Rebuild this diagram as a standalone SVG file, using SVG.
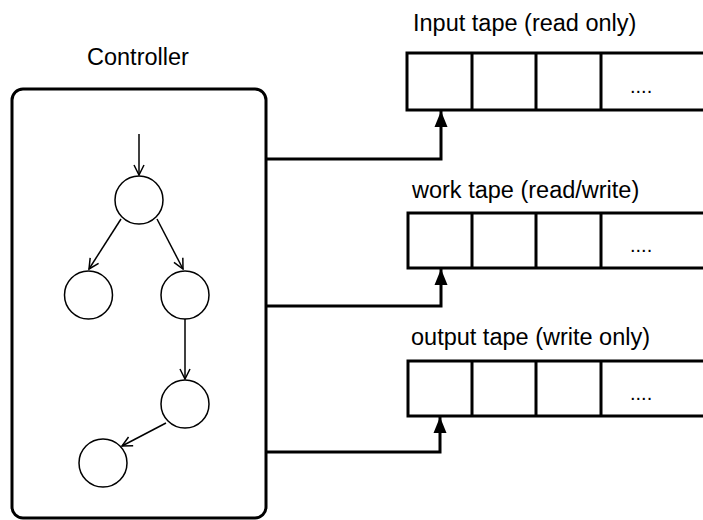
<svg xmlns="http://www.w3.org/2000/svg" width="703" height="520" viewBox="0 0 703 520">
<defs>
<style>
text{font-family:"Liberation Sans",Arial,sans-serif;font-size:23.5px;fill:#000}
.dots{font-size:20px}
.box{fill:#fff;stroke:#000;stroke-width:3}
.cell{fill:none;stroke:#000;stroke-width:3}
.st{fill:#fff;stroke:#000;stroke-width:1.5}
.e{fill:none;stroke:#000;stroke-width:1.5}
.c{fill:none;stroke:#000;stroke-width:3}
</style>
<marker id="open" viewBox="0 0 12 12" refX="11" refY="6" markerWidth="12" markerHeight="12" markerUnits="userSpaceOnUse" orient="auto">
<path d="M1,1 L11,6 L1,11" fill="none" stroke="#000" stroke-width="1.5"/>
</marker>
<marker id="solid" viewBox="0 0 16 14" refX="16" refY="7" markerWidth="16" markerHeight="14" markerUnits="userSpaceOnUse" orient="auto">
<path d="M0,0.5 L16,7 L0,13.5 Z" fill="#000"/>
</marker>
</defs>
<g id="controller">
<text x="87" y="65">Controller</text>
<rect class="box" x="12" y="89" width="254" height="429" rx="11"/>
</g>
<g id="s1"><circle class="st" cx="139" cy="200" r="24"/></g>
<g id="s2"><circle class="st" cx="88.5" cy="295" r="24"/></g>
<g id="s3"><circle class="st" cx="185" cy="295" r="24"/></g>
<g id="s4"><circle class="st" cx="185" cy="404" r="24"/></g>
<g id="s5"><circle class="st" cx="103" cy="463" r="24"/></g>
<g id="input-tape">
<text x="413" y="31">Input tape (read only)</text>
<path class="cell" d="M703,53 H407 V110 H703 M472,53 V110 M536,53 V110 M601,53 V110"/>
<text class="dots" x="630" y="93">....</text>
</g>
<g id="work-tape">
<text x="412" y="198">work tape (read/write)</text>
<path class="cell" d="M703,213 H408 V268 H703 M472,213 V268 M536,213 V268 M601,213 V268"/>
<text class="dots" x="630" y="252">....</text>
</g>
<g id="output-tape">
<text x="411" y="345">output tape (write only)</text>
<path class="cell" d="M703,361 H408 V416 H703 M472,361 V416 M536,361 V416 M601,361 V416"/>
<text class="dots" x="630" y="400">....</text>
</g>
<g id="connectors">
<line class="e" x1="139" y1="134" x2="139" y2="175" marker-end="url(#open)"/>
<line class="e" x1="121" y1="219" x2="89" y2="269" marker-end="url(#open)"/>
<line class="e" x1="157" y1="219" x2="183" y2="269" marker-end="url(#open)"/>
<line class="e" x1="185" y1="319" x2="185" y2="379" marker-end="url(#open)"/>
<line class="e" x1="166" y1="423" x2="122" y2="446" marker-end="url(#open)"/>
<path class="c" d="M266,159 H441 V111" marker-end="url(#solid)"/>
<path class="c" d="M266,306 H441 V269" marker-end="url(#solid)"/>
<path class="c" d="M266,452 H440 V417" marker-end="url(#solid)"/>
</g>
</svg>
